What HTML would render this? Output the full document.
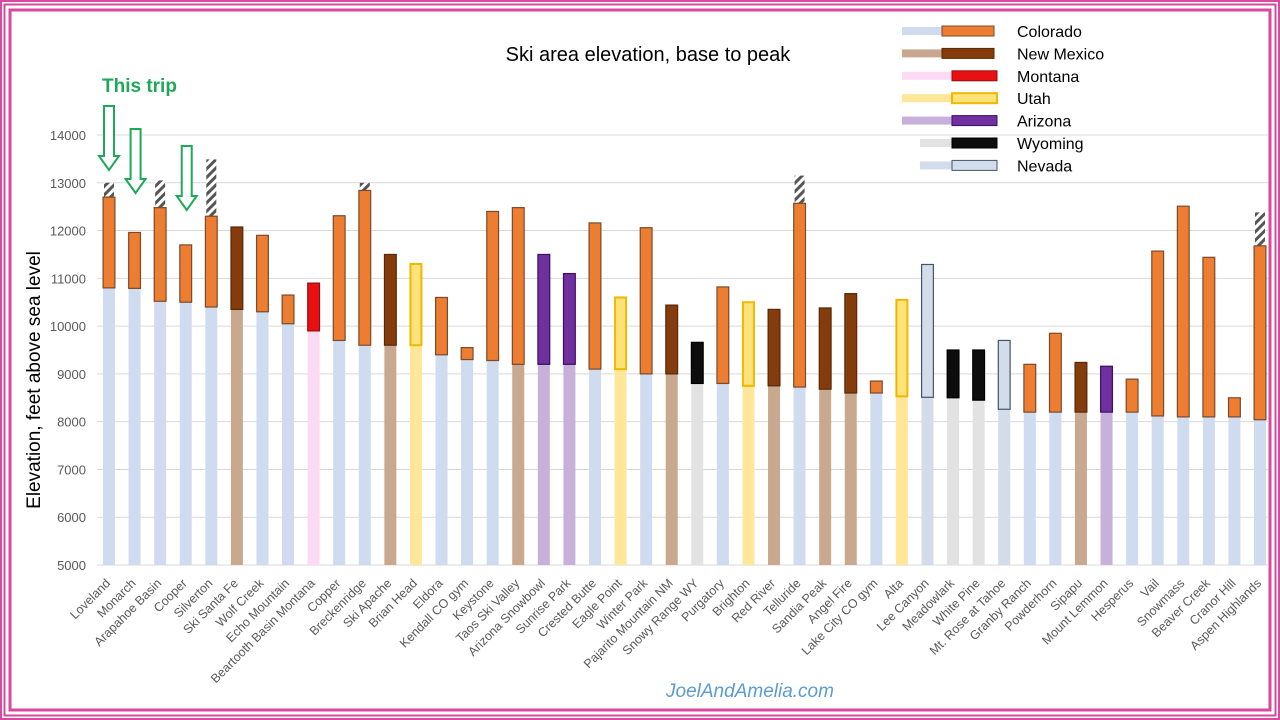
<!DOCTYPE html>
<html><head><meta charset="utf-8"><style>
body{margin:0;background:#fff;}
#wrap{position:relative;width:1280px;height:720px;overflow:hidden;font-family:"Liberation Sans",sans-serif;}
</style></head><body>
<div id="wrap">
<svg id="svg" width="1280" height="720" xmlns="http://www.w3.org/2000/svg">
<defs>
<pattern id="hatch" width="6" height="6" patternUnits="userSpaceOnUse" patternTransform="rotate(45)">
<rect width="6" height="6" fill="#fff"/><rect width="3" height="6" fill="#555"/>
</pattern>
</defs>
<rect x="1" y="1" width="1278" height="718" fill="none" stroke="#d9499d" stroke-width="2"/>
<rect x="4.5" y="4.5" width="1271" height="711" fill="none" stroke="#d9499d" stroke-width="2"/>
<rect x="10" y="10" width="1260" height="700" fill="none" stroke="#d9499d" stroke-width="3"/>
<g id="grid"></g>
<g id="bars"></g>
<g id="labels"></g>
<text x="648" y="61" font-size="20" text-anchor="middle" fill="#000">Ski area elevation, base to peak</text>
<text x="40" y="380" font-size="19" text-anchor="middle" fill="#000" transform="rotate(-90 40 380)">Elevation, feet above sea level</text>
<text x="102" y="92" font-size="19" font-weight="bold" fill="#1fa85a">This trip</text>
<g id="arrows" fill="#fff" stroke="#1fa85a" stroke-width="2"></g>
<g id="legend"></g>
<text x="750" y="697" font-size="19" font-style="italic" text-anchor="middle" fill="#5b9bd5">JoelAndAmelia.com</text>
</svg>
</div>
<script>
const categories=["Loveland","Monarch","Arapahoe Basin","Cooper","Silverton","Ski Santa Fe","Wolf Creek","Echo Mountain","Beartooth Basin Montana","Copper","Breckenridge","Ski Apache","Brian Head","Eldora","Kendall CO gym","Keystone","Taos Ski Valley","Arizona Snowbowl","Sunrise Park","Crested Butte","Eagle Point","Winter Park","Pajarito Mountain NM","Snowy Range WY","Purgatory","Brighton","Red River","Telluride","Sandia Peak","Angel Fire","Lake City CO gym","Alta","Lee Canyon","Meadowlark","White Pine","Mt. Rose at Tahoe","Granby Ranch","Powderhorn","Sipapu","Mount Lemmon","Hesperus","Vail","Snowmass","Beaver Creek","Cranor Hill","Aspen Highlands"];
const states=["CO","CO","CO","CO","CO","NM","CO","CO","MT","CO","CO","NM","UT","CO","CO","CO","NM","AZ","AZ","CO","UT","CO","NM","WY","CO","UT","NM","CO","NM","NM","CO","UT","NV","WY","WY","NV","CO","CO","NM","AZ","CO","CO","CO","CO","CO","CO"];
const baseElev=[10800,10790,10520,10500,10400,10350,10300,10050,9900,9700,9600,9600,9600,9400,9300,9280,9200,9200,9200,9100,9100,9000,9000,8800,8800,8750,8750,8725,8680,8600,8600,8530,8510,8500,8450,8260,8200,8200,8200,8200,8200,8120,8100,8100,8100,8040];
const liftTop=[12700,11960,12480,11700,12300,12075,11900,10650,10900,12310,12840,11500,11300,10600,9550,12400,12480,11500,11100,12160,10600,12060,10440,9660,10820,10500,10350,12570,10380,10680,8850,10550,11290,9500,9500,9700,9200,9850,9240,9160,8890,11570,12510,11440,8500,11680];
const hikeTop=[13000,null,13050,null,13490,null,null,null,null,null,13000,null,null,null,null,null,null,null,null,null,null,null,null,null,null,null,null,13150,null,null,null,null,null,null,null,null,null,null,null,null,null,null,null,null,null,12380];
const yTicks=[5000,6000,7000,8000,9000,10000,11000,12000,13000,14000];
const tripIdx=[0,1,3];
const stateNames=["Colorado","New Mexico","Montana","Utah","Arizona","Wyoming","Nevada"];
const stateKeys=["CO","NM","MT","UT","AZ","WY","NV"];
const style={CO:{b:"#cfdbef",f:"#ed7d31",s:"#7a4a2c"},NM:{b:"#c9a890",f:"#843c0c",s:"#5a2808"},MT:{b:"#fcdaf3",f:"#e81010",s:"#901010"},UT:{b:"#ffe699",f:"#ffe27a",s:"#f0b800"},AZ:{b:"#c7b0da",f:"#7030a0",s:"#3a1060"},WY:{b:"#e2e2e2",f:"#0d0d0d",s:"#000"},NV:{b:"#d3dcea",f:"#d3dcea",s:"#44546a"}};
const NS="http://www.w3.org/2000/svg";
const x0=109,step=(1260-109)/45,bw=13;
const y=v=>565-(v-5000)*(430/9000);
const xc=i=>x0+i*step;
function mk(t,a,p){const e=document.createElementNS(NS,t);for(const k in a)e.setAttribute(k,a[k]);p.appendChild(e);return e;}
const grid=document.getElementById('grid'),bars=document.getElementById('bars'),labels=document.getElementById('labels');
yTicks.forEach(v=>{
  const l=mk('line',{x1:97,x2:1268,y1:y(v),y2:y(v),stroke:'#d9d9d9','stroke-width':1},grid);
  
  
  const t=mk('text',{x:86,y:y(v)+5,'font-size':13,'text-anchor':'end',fill:'#595959'},grid);
  t.textContent=v;
  
  
});
categories.forEach((c,i)=>{
  let st=style[states[i]];
  if(categories[i]==="Taos Ski Valley") st={b:style.NM.b,f:style.CO.f,s:style.CO.s};
  const cx=xc(i);
  const b=mk('rect',{x:cx-6,y:y(baseElev[i]),width:12,height:y(5000)-y(baseElev[i]),fill:st.b},bars);
  
  
  if(hikeTop[i]){
    const h=mk('rect',{x:cx-5,y:y(hikeTop[i]),width:10,height:y(liftTop[i])-y(hikeTop[i]),fill:'url(#hatch)'},bars);
    
    
  }
  const sw=(states[i]==='UT')?2:1.2;
  const f=mk('rect',{x:cx-bw/2+sw/2,y:y(liftTop[i]),width:bw-sw,height:y(baseElev[i])-y(liftTop[i]),fill:st.f,stroke:st.s,'stroke-width':sw},bars);
  
  
  const t=mk('text',{x:cx+2,y:584,'font-size':12.5,'text-anchor':'end',fill:'#595959',transform:`rotate(-45 ${cx+2} 584)`},labels);
  t.textContent=c;
  
  
});
const arrows=document.getElementById('arrows');
const arrowTops=[106,129,146];
tripIdx.forEach((idx,k)=>{
  const cx=xc(idx)+(k===0?0:1),top=arrowTops[k],bot=top+64;
  const p=mk('path',{d:`M${cx-5},${top} L${cx+5},${top} L${cx+5},${bot-14} L${cx+10},${bot-14} L${cx},${bot} L${cx-10},${bot-14} L${cx-5},${bot-14} Z`},arrows);
  
  
});
const leg=document.getElementById('legend');
stateKeys.forEach((k,i)=>{
  const st=style[k],yy=31+i*22.4;
  const g=mk('g',{},leg);
  
  
  mk('rect',{x:902+(i>=5?18:0),y:yy-4,width:60,height:8,fill:st.b},g);
  mk('rect',{x:942+(i>=2?10:0),y:yy-5,width:(i>=2?45:52),height:10,fill:st.f,stroke:st.s,'stroke-width':(k==='UT'?2:1)},g);
  const t=mk('text',{x:1017,y:yy+6,'font-size':16,fill:'#000'},g);
  t.textContent=stateNames[i];
});
</script>
</body></html>
